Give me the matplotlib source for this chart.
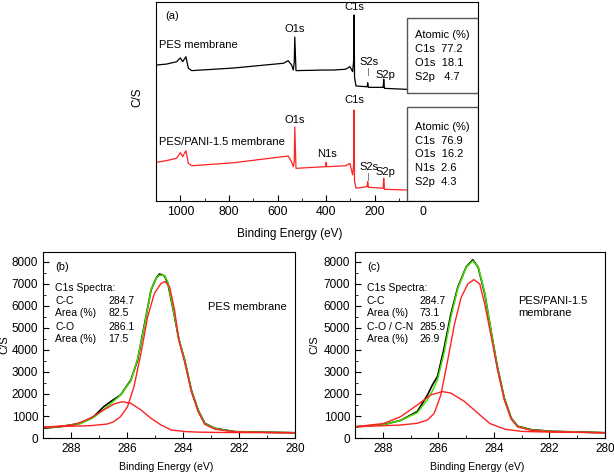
import numpy as np
import matplotlib
matplotlib.use("Agg")
import matplotlib.pyplot as plt
from matplotlib.patches import Rectangle
from matplotlib.ticker import MultipleLocator, FixedLocator

plt.rcParams['font.family'] = ['Liberation Sans', 'DejaVu Sans']

# ---- (a) survey spectra (arbitrary C/S units) ----
survey_ev = [1100, 1056, 1015, 1000, 990, 977, 967, 953, 782, 576, 556, 542, 535,
             531, 529, 524, 410, 402, 400, 397, 370, 320, 302, 291, 287, 285,
             283, 277, 233, 231, 229, 226, 167, 165, 163, 160, 68]
pes_survey = [68.3, 68.8, 70.0, 71.9, 70.0, 72.5, 66.7, 65.5, 66.8, 69.2, 70.5, 68.3, 65.8,
              70.0, 82.4, 65.5, 65.8, 65.8, 65.8, 65.8, 65.8, 66.2, 67.5, 65.0, 70.0, 93.5,
              62.0, 57.8, 57.4, 57.4, 59.4, 57.1, 57.1, 57.1, 61.2, 56.6, 56.1]
pani_survey = [19.4, 20.3, 21.5, 24.3, 22.3, 25.3, 18.9, 17.7, 19.2, 22.3, 22.6, 19.7, 17.2,
               20.0, 37.2, 16.4, 17.2, 17.2, 19.4, 17.2, 17.4, 17.7, 18.9, 13.1, 18.0, 45.7,
               10.0, 6.4, 7.2, 7.2, 9.7, 6.9, 6.4, 6.4, 11.4, 5.9, 5.5]

pes_atomic = ["Atomic (%)", "C1s  77.2", "O1s  18.1", "S2p   4.7"]
pani_atomic = ["Atomic (%)", "C1s  76.9", "O1s  16.2", "N1s  2.6", "S2p  4.3"]

# ---- (b) PES C1s ----
b_ev = [289.0, 288.39, 287.67, 287.19, 286.83, 286.59, 286.23, 285.86, 285.62, 285.39,
        285.14, 284.96, 284.84, 284.66, 284.54, 284.30, 284.15, 283.94, 283.70, 283.46,
        283.22, 282.86, 282.14, 280.94, 280.0]
b_data = [440, 515, 667, 970, 1424, 1650, 1955, 2636, 3545, 5060,
          6727, 7258, 7455, 7364, 7030, 5515, 4500, 3545, 2180, 1270,
          667, 440, 290, 260, 240]
b_fit = [470, 520, 650, 930, 1300, 1550, 1950, 2600, 3600, 5000,
         6750, 7250, 7400, 7390, 7080, 5550, 4520, 3520, 2160, 1250,
         650, 430, 285, 258, 240]
b_cc_ev = [289.0, 287.31, 286.70, 286.47, 286.23, 285.98, 285.75, 285.50, 285.26, 285.02,
           284.78, 284.64, 284.48, 284.30, 284.15, 283.94, 283.70, 283.46, 283.22, 282.86,
           282.14, 280.94, 280.0]
b_cc = [500, 560, 636, 742, 970, 1424, 2333, 3850, 5515, 6575,
        7030, 7106, 6880, 5820, 4450, 3450, 2100, 1200, 620, 400,
        280, 255, 240]
b_co_ev = [289.0, 287.91, 287.31, 286.83, 286.47, 286.16, 285.86, 285.50, 285.14, 284.78,
           284.42, 283.90, 283.40, 282.5, 280.0]
b_co = [490, 590, 894, 1273, 1545, 1650, 1576, 1273, 894, 590,
        364, 290, 265, 250, 240]

# ---- (c) PES/PANI-1.5 C1s ----
c_ev = [289.0, 287.97, 287.36, 286.76, 286.39, 286.21, 286.03, 285.79, 285.55, 285.30,
        285.0, 284.76, 284.57, 284.33, 284.10, 283.87, 283.63, 283.38, 283.14, 282.66,
        281.93, 280.97, 280.0]
c_data = [510, 610, 800, 1200, 1960, 2420, 2800, 4100, 5630, 6850,
          7770, 8100, 7770, 6550, 4830, 3200, 1830, 914, 533, 380,
          305, 274, 240]
c_fit = [510, 600, 800, 1150, 1750, 2150, 2650, 3900, 5500, 6800,
         7750, 8050, 7800, 6600, 4850, 3180, 1800, 900, 520, 370,
         300, 270, 240]
c_cc_ev = [289.0, 287.36, 286.76, 286.39, 286.15, 285.91, 285.67, 285.42, 285.18, 284.94,
           284.72, 284.51, 284.33, 284.09, 283.87, 283.63, 283.38, 283.14, 282.66, 281.93,
           280.97, 280.0]
c_cc = [510, 590, 670, 820, 1120, 1960, 3490, 5170, 6390, 7000,
        7200, 7000, 6090, 4560, 3100, 1750, 860, 500, 350, 290,
        265, 240]
c_co_ev = [289.0, 287.97, 287.36, 286.76, 286.27, 285.85, 285.55, 285.06, 284.57, 284.15,
           283.6, 283.0, 282.0, 280.0]
c_co = [510, 660, 970, 1500, 1960, 2110, 2040, 1660, 1120, 660,
        400, 300, 270, 240]

b_table = [("C1s Spectra:", ""), ("C-C", "284.7"), ("Area (%)", "82.5"),
           ("C-O", "286.1"), ("Area (%)", "17.5")]
c_table = [("C1s Spectra:", ""), ("C-C", "284.7"), ("Area (%)", "73.1"),
           ("C-O / C-N", "285.9"), ("Area (%)", "26.9")]

RED = '#ff2222'
GREEN = '#44dd00'

fig = plt.figure(figsize=(6.14, 4.72), dpi=100)

# ================= panel (a) =================
ax = fig.add_axes([0.2541, 0.5742, 0.5244, 0.4216])
ax.plot(survey_ev, pes_survey, color='black', lw=0.9)
ax.plot(survey_ev, pani_survey, color=RED, lw=0.9)
ax.set_xlim(1100, -225)
ax.set_ylim(0, 100)
ax.xaxis.set_major_locator(FixedLocator([1000, 800, 600, 400, 200, 0]))
ax.xaxis.set_minor_locator(FixedLocator([900, 700, 500, 300, 100]))
ax.tick_params(axis='x', which='both', direction='in', labelsize=8.8)
ax.tick_params(axis='x', which='major', length=4)
ax.tick_params(axis='x', which='minor', length=2)
ax.set_yticks([])
ax.set_xlabel('Binding Energy (eV)', fontsize=8.5)
ax.xaxis.set_label_coords(0.416, -0.135)
ax.set_ylabel('C/S', fontsize=8.5)
ax.yaxis.set_label_coords(-0.04, 0.52)

ax.text(1063, 93, '(a)', fontsize=8, va='center')
ax.text(1088, 78.4, 'PES membrane', fontsize=8, va='center')
ax.text(1088, 29.6, 'PES/PANI-1.5 membrane', fontsize=8, va='center')

peak_kw = dict(fontsize=8, ha='center', va='center')
ax.text(531, 86.4, 'O1s', **peak_kw)
ax.text(283, 97.3, 'C1s', **peak_kw)
ax.text(223, 69.8, 'S2s', **peak_kw)
ax.text(158, 63.3, 'S2p', **peak_kw)
ax.text(283, 50.8, 'C1s', **peak_kw)
ax.text(531, 40.7, 'O1s', **peak_kw)
ax.text(396, 23.6, 'N1s', **peak_kw)
ax.text(223, 17.1, 'S2s', **peak_kw)
ax.text(158, 14.6, 'S2p', **peak_kw)
ax.plot([229, 229], [63.5, 66.8], color='gray', lw=0.7)
ax.plot([229, 229], [10.4, 14.0], color='gray', lw=0.7)

box_kw = dict(facecolor='white', edgecolor='#555555', lw=1.0, zorder=3)
ax.add_patch(Rectangle((67, 54.3), -292, 37.7, **box_kw))
ax.add_patch(Rectangle((67, 0), -292, 47.2, **box_kw))
for i, s in enumerate(pes_atomic):
    ax.text(34, 83.4 - i * 7.0, s, fontsize=8, va='center', zorder=4)
for i, s in enumerate(pani_atomic):
    ax.text(34, 37.2 - i * 6.9, s, fontsize=8, va='center', zorder=4)


# ================= panels (b), (c) =================
def c1s_panel(rect, ev, data, fit, cc_ev, cc, co_ev, co, tag, table, name, ylab_x):
    a = fig.add_axes(rect)
    a.plot(ev, data, color='black', lw=1.2)
    a.plot(ev, fit, color=GREEN, lw=1.1)
    a.plot(cc_ev, cc, color=RED, lw=1.0)
    a.plot(co_ev, co, color=RED, lw=1.0)
    a.set_xlim(289, 280)
    a.set_ylim(0, 8450)
    a.xaxis.set_major_locator(MultipleLocator(2))
    a.xaxis.set_minor_locator(MultipleLocator(1))
    a.yaxis.set_major_locator(MultipleLocator(1000))
    a.yaxis.set_minor_locator(MultipleLocator(500))
    a.tick_params(which='both', direction='in', labelsize=8.5)
    a.tick_params(which='major', length=4)
    a.tick_params(which='minor', length=2)
    a.set_xlabel('Binding Energy (eV)', fontsize=7.6)
    a.xaxis.set_label_coords(0.49, -0.13)
    a.set_ylabel('C/S', fontsize=8)
    a.yaxis.set_label_coords(ylab_x, 0.5)
    a.text(288.57, 7770, tag, fontsize=8, va='center')
    ys = [6820, 6230, 5680, 5050, 4500]
    for (lab, val), y in zip(table, ys):
        a.text(288.57, y, lab, fontsize=7.5, va='center')
        if val:
            a.text(286.67, y, val, fontsize=7.5, va='center')
    a.text(283.12, 5950, name, fontsize=8, va='center', linespacing=1.2)
    return a


c1s_panel([0.0700, 0.0720, 0.4104, 0.3940], b_ev, b_data, b_fit,
          b_cc_ev, b_cc, b_co_ev, b_co, '(b)', b_table, 'PES membrane', -0.135)
c1s_panel([0.5782, 0.0720, 0.4072, 0.3940], c_ev, c_data, c_fit,
          c_cc_ev, c_cc, c_co_ev, c_co, '(c)', c_table, 'PES/PANI-1.5\nmembrane', -0.144)

plt.savefig('out.png', dpi=100)
